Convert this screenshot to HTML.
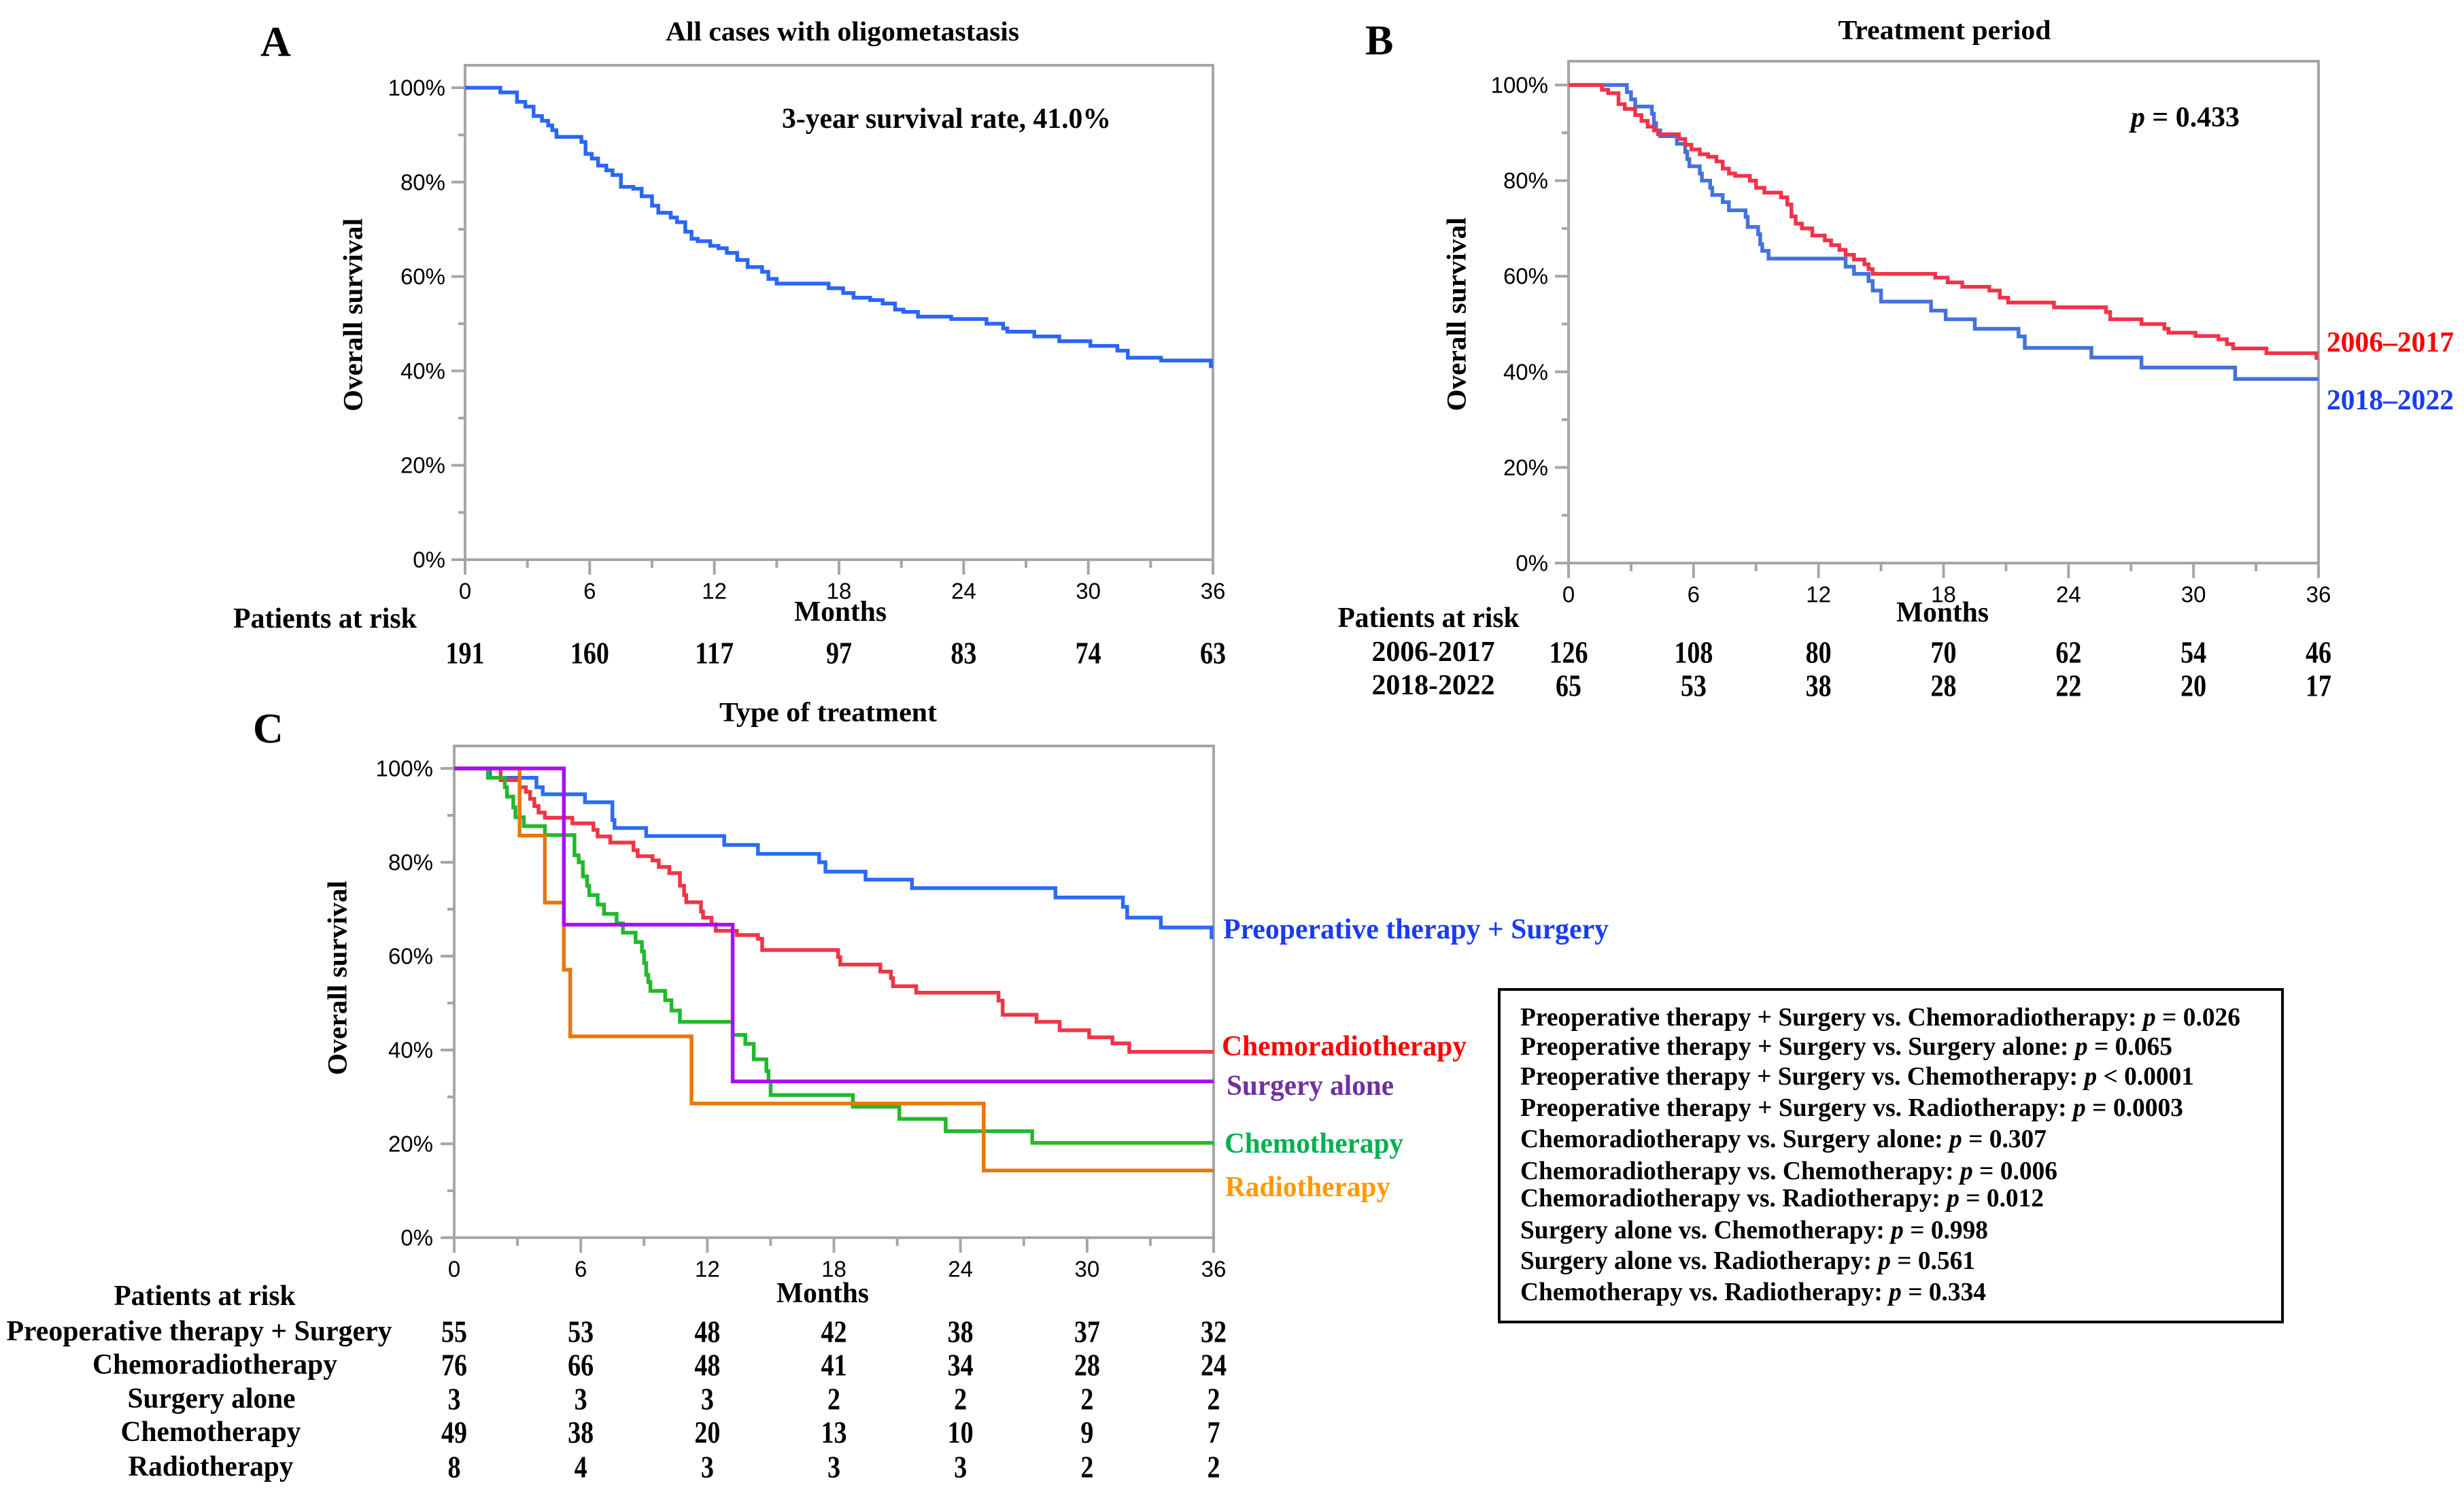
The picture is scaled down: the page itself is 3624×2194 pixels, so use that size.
<!DOCTYPE html>
<html><head><meta charset="utf-8"><title>Kaplan-Meier survival curves</title>
<style>
html,body{margin:0;padding:0;background:#fff}
svg{display:block}
.ser{font-family:"Liberation Serif","Times New Roman",serif;font-weight:bold;fill:#000}
.san{font-family:"Liberation Sans",Arial,sans-serif;fill:#000}
</style></head>
<body>
<svg id="fig" xmlns="http://www.w3.org/2000/svg" width="3624" height="2194" viewBox="0 0 3624 2194">
<rect x="0" y="0" width="3624" height="2194" fill="#fff"/>
<text class="ser" x="383" y="82" font-size="62">A</text>
<text class="ser" x="2008" y="80" font-size="62">B</text>
<text class="ser" x="372" y="1092" font-size="62">C</text>
<text class="ser" x="1239" y="46" font-size="40" text-anchor="middle" dominant-baseline="central" textLength="520" lengthAdjust="spacingAndGlyphs">All cases with oligometastasis</text>
<text class="ser" x="2860" y="44" font-size="40" text-anchor="middle" dominant-baseline="central" textLength="313" lengthAdjust="spacingAndGlyphs">Treatment period</text>
<text class="ser" x="1218" y="1047" font-size="40" text-anchor="middle" dominant-baseline="central" textLength="320" lengthAdjust="spacingAndGlyphs">Type of treatment</text>
<text class="ser" transform="translate(519,463) rotate(-90)" font-size="40" text-anchor="middle" dominant-baseline="central" textLength="284" lengthAdjust="spacingAndGlyphs">Overall survival</text>
<text class="ser" transform="translate(2142,462) rotate(-90)" font-size="40" text-anchor="middle" dominant-baseline="central" textLength="285" lengthAdjust="spacingAndGlyphs">Overall survival</text>
<text class="ser" transform="translate(496,1438) rotate(-90)" font-size="40" text-anchor="middle" dominant-baseline="central" textLength="286" lengthAdjust="spacingAndGlyphs">Overall survival</text>
<text class="ser" x="1236" y="900" font-size="42" text-anchor="middle" dominant-baseline="central" textLength="136" lengthAdjust="spacingAndGlyphs">Months</text>
<text class="ser" x="2857" y="901" font-size="42" text-anchor="middle" dominant-baseline="central" textLength="136" lengthAdjust="spacingAndGlyphs">Months</text>
<text class="ser" x="1210" y="1902" font-size="42" text-anchor="middle" dominant-baseline="central" textLength="136" lengthAdjust="spacingAndGlyphs">Months</text>
<text class="ser" x="1150" y="175" font-size="42" dominant-baseline="central" textLength="484" lengthAdjust="spacingAndGlyphs">3-year survival rate, 41.0%</text>
<text class="ser" x="3134" y="173" font-size="42" dominant-baseline="central" textLength="160" lengthAdjust="spacingAndGlyphs"><tspan font-style="italic">p</tspan> = 0.433</text>
<text class="ser" x="3422" y="504" font-size="42" dominant-baseline="central" textLength="187" lengthAdjust="spacingAndGlyphs" style="fill:#ff0000">2006–2017</text>
<text class="ser" x="3422" y="589" font-size="42" dominant-baseline="central" textLength="187" lengthAdjust="spacingAndGlyphs" style="fill:#1a3cf0">2018–2022</text>
<text class="ser" x="1799" y="1367" font-size="42" dominant-baseline="central" textLength="567" lengthAdjust="spacingAndGlyphs" style="fill:#1a3cf0">Preoperative therapy + Surgery</text>
<text class="ser" x="1797" y="1539" font-size="42" dominant-baseline="central" textLength="360" lengthAdjust="spacingAndGlyphs" style="fill:#ff0000">Chemoradiotherapy</text>
<text class="ser" x="1804" y="1597" font-size="42" dominant-baseline="central" textLength="246" lengthAdjust="spacingAndGlyphs" style="fill:#7030a0">Surgery alone</text>
<text class="ser" x="1801" y="1682" font-size="42" dominant-baseline="central" textLength="263" lengthAdjust="spacingAndGlyphs" style="fill:#00b050">Chemotherapy</text>
<text class="ser" x="1802" y="1746" font-size="42" dominant-baseline="central" textLength="243" lengthAdjust="spacingAndGlyphs" style="fill:#ff9900">Radiotherapy</text>
<g>
<rect x="2205" y="1455" width="1152" height="489" fill="none" stroke="#000" stroke-width="4"/>
<g class="ser" font-size="38">
<text x="2236" y="1496" dominant-baseline="central" textLength="1059" lengthAdjust="spacingAndGlyphs">Preoperative therapy + Surgery vs. Chemoradiotherapy: <tspan font-style="italic">p</tspan> = 0.026</text>
<text x="2236" y="1539" dominant-baseline="central" textLength="959" lengthAdjust="spacingAndGlyphs">Preoperative therapy + Surgery vs. Surgery alone: <tspan font-style="italic">p</tspan> = 0.065</text>
<text x="2236" y="1583" dominant-baseline="central" textLength="991" lengthAdjust="spacingAndGlyphs">Preoperative therapy + Surgery vs. Chemotherapy: <tspan font-style="italic">p</tspan> &lt; 0.0001</text>
<text x="2236" y="1629" dominant-baseline="central" textLength="975" lengthAdjust="spacingAndGlyphs">Preoperative therapy + Surgery vs. Radiotherapy: <tspan font-style="italic">p</tspan> = 0.0003</text>
<text x="2236" y="1675" dominant-baseline="central" textLength="774" lengthAdjust="spacingAndGlyphs">Chemoradiotherapy vs. Surgery alone: <tspan font-style="italic">p</tspan> = 0.307</text>
<text x="2236" y="1722" dominant-baseline="central" textLength="790" lengthAdjust="spacingAndGlyphs">Chemoradiotherapy vs. Chemotherapy: <tspan font-style="italic">p</tspan> = 0.006</text>
<text x="2236" y="1762" dominant-baseline="central" textLength="770" lengthAdjust="spacingAndGlyphs">Chemoradiotherapy vs. Radiotherapy: <tspan font-style="italic">p</tspan> = 0.012</text>
<text x="2236" y="1809" dominant-baseline="central" textLength="688" lengthAdjust="spacingAndGlyphs">Surgery alone vs. Chemotherapy: <tspan font-style="italic">p</tspan> = 0.998</text>
<text x="2236" y="1854" dominant-baseline="central" textLength="669" lengthAdjust="spacingAndGlyphs">Surgery alone vs. Radiotherapy: <tspan font-style="italic">p</tspan> = 0.561</text>
<text x="2236" y="1900" dominant-baseline="central" textLength="685" lengthAdjust="spacingAndGlyphs">Chemotherapy vs. Radiotherapy: <tspan font-style="italic">p</tspan> = 0.334</text>
</g></g>
<text class="ser" x="478" y="910" font-size="42" text-anchor="middle" dominant-baseline="central" textLength="270" lengthAdjust="spacingAndGlyphs">Patients at risk</text>
<text class="ser" x="2101" y="909" font-size="42" text-anchor="middle" dominant-baseline="central" textLength="267" lengthAdjust="spacingAndGlyphs">Patients at risk</text>
<text class="ser" x="2108" y="959" font-size="42" text-anchor="middle" dominant-baseline="central" textLength="181" lengthAdjust="spacingAndGlyphs">2006-2017</text>
<text class="ser" x="2108" y="1008" font-size="42" text-anchor="middle" dominant-baseline="central" textLength="181" lengthAdjust="spacingAndGlyphs">2018-2022</text>
<text class="ser" x="301" y="1906" font-size="42" text-anchor="middle" dominant-baseline="central" textLength="267" lengthAdjust="spacingAndGlyphs">Patients at risk</text>
<text class="ser" x="293" y="1958" font-size="42" text-anchor="middle" dominant-baseline="central" textLength="567" lengthAdjust="spacingAndGlyphs">Preoperative therapy + Surgery</text>
<text class="ser" x="316" y="2007" font-size="42" text-anchor="middle" dominant-baseline="central" textLength="360" lengthAdjust="spacingAndGlyphs">Chemoradiotherapy</text>
<text class="ser" x="311" y="2057" font-size="42" text-anchor="middle" dominant-baseline="central" textLength="247" lengthAdjust="spacingAndGlyphs">Surgery alone</text>
<text class="ser" x="310" y="2106" font-size="42" text-anchor="middle" dominant-baseline="central" textLength="265" lengthAdjust="spacingAndGlyphs">Chemotherapy</text>
<text class="ser" x="310" y="2157" font-size="42" text-anchor="middle" dominant-baseline="central" textLength="243" lengthAdjust="spacingAndGlyphs">Radiotherapy</text>
<g id="plots"></g>
</svg>
<script>
var xTicks = [0, 6, 12, 18, 24, 30, 36];
var yTicks = [0, 20, 40, 60, 80, 100];
var yTickLabels = ["0%", "20%", "40%", "60%", "80%", "100%"];

var allTime = [1.6,1.7,2.5,2.9,3.3,3.7,4.0,4.2,4.4,5.6,5.8,6.1,6.4,6.8,7.1,7.5,8.1,8.5,9.0,9.3,9.9,10.2,10.6,10.9,11.2,11.8,12.2,12.6,13.1,13.6,14.3,14.6,15.0,17.5,18.2,18.7,19.5,20.1,20.7,21.1,21.8,23.4,25.1,25.9,26.1,27.4,28.6,30.1,31.4,31.9,33.5,35.9];
var allSurv = [100,99,97,96,94,93,92,91,89.6,88.5,86,85,83.5,82.5,81.5,79,78.6,77,75,73.5,72.5,71.5,69.5,68,67.5,66.5,66,65,63.5,62,61,59.5,58.5,57.5,56.5,55.5,55,54.3,53,52.5,51.5,51,50,49,48.3,47.3,46.3,45.3,44.3,42.8,42.2,41];

var earlyTime = [1.6,1.9,2.4,2.7,3.2,3.5,3.8,4.1,4.3,5.3,5.6,5.9,6.3,6.7,7.1,7.4,7.7,8.0,8.7,9.0,9.4,10.2,10.5,10.7,10.9,11.2,11.7,12.3,12.6,13.0,13.3,13.7,14.2,14.4,14.6,17.6,18.2,18.9,20.2,20.7,21.1,23.3,25.8,26.0,27.5,28.6,28.8,30.1,31.2,31.6,31.9,33.5,35.9];
var earlySurv = [99,98.3,96,95,93.7,92.5,91.3,90.5,89.7,88.7,87.5,86.5,85.5,85,84,82.5,81.5,81,80,78.5,77.5,76.5,75,72.5,71,70,68.5,67.5,66.5,65.5,64.5,63.5,62.5,61.5,60.5,59.7,58.7,57.8,57,55.5,54.5,53.5,52.5,51,50,49,48.2,47.5,46.8,45.8,44.9,43.9,42.9];
var lateTime = [2.8,3.0,3.2,4.0,4.1,4.2,4.4,5.2,5.6,5.7,5.8,6.3,6.4,6.8,6.9,7.4,7.7,8.5,8.6,9.1,9.2,9.3,9.6,13.3,13.7,14.4,14.6,15.0,17.4,18.1,19.5,21.6,21.9,25.1,27.5,32.0];
var lateSurv = [98.5,97,95.5,94,92,90.5,89.3,87.7,86,84.5,83,81.5,80,78.5,77,75.5,73.8,72.4,70.3,68.8,66.7,65.3,63.7,62,60.5,59,57,54.7,52.8,51,49,47.4,45,43,40.9,38.5];

var preopTime = [1.7,3.9,4.2,6.2,7.5,7.6,9.1,12.8,14.4,17.3,17.6,19.5,21.7,28.5,31.7,31.9,33.5,35.9];
var preopSurv = [98,96,94.5,92.8,89,87.3,85.6,83.7,81.8,80,78,76.3,74.5,72.5,70.5,68.2,66.1,64];
var crtTime = [2.2,3.1,3.4,3.6,3.8,4.0,4.3,5.6,6.6,6.8,7.4,8.5,8.7,9.4,9.7,10.2,10.7,10.9,11.0,11.7,11.8,12.2,12.4,13.4,14.4,14.6,18.2,18.3,20.2,20.7,20.8,21.9,25.8,26.0,27.6,28.7,30.1,31.2,32.0];
var crtSurv = [97.5,96,95,93.5,92,90.6,89.5,88.3,86.9,85.5,84.2,82.6,81.3,80.4,79,77.7,75,73,71.5,69.5,68.2,66.8,65.4,64.5,63.7,61.3,59.8,58.2,56.7,55.3,53.6,52.2,50.5,47.5,46,44.2,42.7,41.4,39.6];
var saTime = [5.2,13.2];
var saSurv = [66.7,33.3];
var chemoTime = [1.6,2.4,2.5,2.8,2.9,3.3,4.3,5.7,5.9,6.1,6.3,6.4,6.8,7.1,7.7,8.0,8.6,8.9,9.0,9.1,9.2,9.3,10.0,10.3,10.7,13.2,13.8,14.2,14.8,14.9,15.0,18.9,21.1,23.3,27.4];
var chemoSurv = [98,96,94,91.7,89.6,87.7,85.8,81.5,80,77,75,73,71,69,67,65,63,61,58.5,56,54.5,52.6,50.6,48.4,46,43.2,41.3,38,35.5,33.3,30.4,27.9,25.3,22.7,20.2];
var rtTime = [3.1,4.3,5.2,5.5,11.25,25.1];
var rtSurv = [85.7,71.4,57.1,42.9,28.6,14.3];

var riskA = [191,160,117,97,83,74,63];
var riskEarly = [126,108,80,70,62,54,46];
var riskLate = [65,53,38,28,22,20,17];
var riskPreop = [55,53,48,42,38,37,32];
var riskCrt = [76,66,48,41,34,28,24];
var riskSa = [3,3,3,2,2,2,2];
var riskChemo = [49,38,20,13,10,9,7];
var riskRt = [8,4,3,3,3,2,2];

var NS = "http://www.w3.org/2000/svg";
var root = document.getElementById("plots");
function mk(tag, attrs, parent) {
  var el = document.createElementNS(NS, tag);
  for (var k in attrs) el.setAttribute(k, attrs[k]);
  (parent || root).appendChild(el);
  return el;
}
function panel(id, x0, x1, top, y100, y0, tickLabelRight, tickLabelY) {
  var g = mk("g", {});
  
  
  var sx = function (t) { return x0 + (x1 - x0) * t / 36; };
  var sy = function (s) { return y0 - (y0 - y100) * s / 100; };
  var gray = "#a6a6a6";
  var frame = mk("path", {d: "M" + x0 + " " + y0 + " V" + top + " H" + x1 + " V" + y0 + " H" + x0, fill: "none", stroke: gray, "stroke-width": 4}, g);
  
  
  for (var i = 0; i <= 10; i++) {
    var yy = sy(i * 10), major = (i % 2 === 0);
    var tk = mk("line", {x1: x0 - (major ? 20 : 10), x2: x0, y1: yy, y2: yy, stroke: gray, "stroke-width": 4}, g);
    
    
  }
  for (var j = 0; j < yTicks.length; j++) {
    var lb = mk("text", {x: tickLabelRight, y: sy(yTicks[j]), "text-anchor": "end", "dominant-baseline": "central", "font-size": 33, "class": "san"}, g);
    lb.textContent = yTickLabels[j];
    
    
  }
  for (var m = 0; m <= 12; m++) {
    var xx = sx(m * 3), maj = (m % 2 === 0);
    var xt = mk("line", {x1: xx, x2: xx, y1: y0, y2: y0 + (maj ? 22 : 12), stroke: gray, "stroke-width": 4}, g);
    
    
  }
  for (var n = 0; n < xTicks.length; n++) {
    var xl = mk("text", {x: sx(xTicks[n]), y: tickLabelY, "text-anchor": "middle", "dominant-baseline": "central", "font-size": 33, "class": "san"}, g);
    xl.textContent = xTicks[n];
    
    
  }
  return {g: g, sx: sx, sy: sy};
}
function curve(p, times, survs, color, name) {
  var d = "M" + p.sx(0) + " " + p.sy(100);
  for (var i = 0; i < times.length; i++) {
    d += " H" + p.sx(times[i]).toFixed(1) + " V" + p.sy(survs[i]).toFixed(1);
  }
  d += " H" + p.sx(36);
  var path = mk("path", {d: d, fill: "none", stroke: color, "stroke-width": 5.5, "stroke-linejoin": "miter"}, p.g);
  
  
}
function riskRow(p, vals, y, name) {
  for (var i = 0; i < vals.length; i++) {
    var t = mk("text", {x: p.sx(xTicks[i]), y: y, "text-anchor": "middle", "dominant-baseline": "central", "font-size": 46, "class": "ser"}, p.g);
    t.textContent = vals[i];
    
    
    var w = String(vals[i]).length * 19;
    t.setAttribute("textLength", w);
    t.setAttribute("lengthAdjust", "spacingAndGlyphs");
  }
}

var pA = panel("panel-a", 684, 1784, 96, 129, 823, 655, 869);
curve(pA, allTime, allSurv, "#2a66f6", "curve-all-cases");
riskRow(pA, riskA, 960, "risk-count-all");

var pB = panel("panel-b", 2307, 3410, 90, 125, 828, 2277, 874);
curve(pB, lateTime, lateSurv, "#4472dd", "curve-2018-2022");
curve(pB, earlyTime, earlySurv, "#f0334a", "curve-2006-2017");
riskRow(pB, riskEarly, 959, "risk-count-2006-2017");
riskRow(pB, riskLate, 1008, "risk-count-2018-2022");

var pC = panel("panel-c", 668, 1785, 1097, 1130, 1820, 637, 1866);
curve(pC, preopTime, preopSurv, "#2b6bf5", "curve-preoperative-surgery");
curve(pC, crtTime, crtSurv, "#f03546", "curve-chemoradiotherapy");
curve(pC, chemoTime, chemoSurv, "#22b82e", "curve-chemotherapy");
curve(pC, rtTime, rtSurv, "#e8780c", "curve-radiotherapy");
curve(pC, saTime, saSurv, "#a90ff2", "curve-surgery-alone");
riskRow(pC, riskPreop, 1958, "risk-count-preoperative-surgery");
riskRow(pC, riskCrt, 2007, "risk-count-chemoradiotherapy");
riskRow(pC, riskSa, 2057, "risk-count-surgery-alone");
riskRow(pC, riskChemo, 2106, "risk-count-chemotherapy");
riskRow(pC, riskRt, 2157, "risk-count-radiotherapy");
</script>
</body></html>
